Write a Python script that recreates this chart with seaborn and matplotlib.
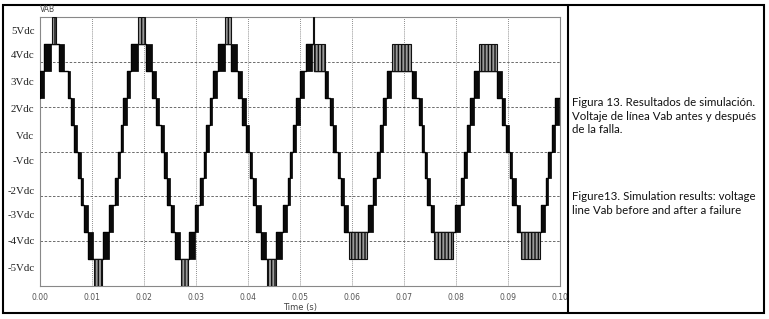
import pandas as pd
import seaborn as sns
import matplotlib.pyplot as plt
from matplotlib.patches import Rectangle
from matplotlib.lines import Line2D

# DC link voltage of one cell (V); levels are multiples of it
VDC = 120.0

# PWM switching bands (ms): signal toggles between level lo and lo+1
pwm_t0 = [0.00, 0.85, 3.65, 5.33, 5.96, 6.58, 7.25, 7.98, 8.44, 9.27,
          12.06, 13.35, 14.42, 15.00, 15.52, 16.00, 16.77, 17.54,
          20.33, 21.62, 22.35, 23.27, 23.85, 24.42, 25.10, 25.90,
          28.65, 29.85, 30.77, 31.48, 31.96, 32.60, 33.35, 34.17,
          36.77, 38.02, 38.88, 39.65, 40.29, 40.90, 41.58, 42.54,
          45.42, 46.73, 47.63, 48.12, 48.60, 49.27, 50.04, 51.10,
          54.85, 55.71, 56.38, 57.31, 57.83, 58.50,
          63.08, 64.08, 64.75, 65.42, 66.00, 66.67,
          71.48, 72.83, 73.50, 73.98, 74.46, 75.13,
          79.88, 80.90, 81.58, 82.19, 82.73, 83.50,
          87.96, 88.92, 89.56, 90.33, 90.85, 91.77,
          96.42, 97.25, 97.77, 98.40, 99.08]
pwm_t1 = [0.71, 2.12, 4.69, 5.85, 6.48, 7.15, 7.88, 8.35, 9.17, 10.13,
          13.21, 13.98, 14.94, 15.42, 15.90, 16.67, 17.25, 18.79,
          21.48, 22.25, 22.88, 23.79, 24.37, 25.00, 25.85, 26.92,
          29.75, 30.46, 31.38, 31.87, 32.50, 33.02, 33.98, 35.52,
          37.92, 38.79, 39.56, 40.19, 40.81, 41.48, 42.44, 43.50,
          46.58, 47.54, 48.02, 48.54, 49.17, 49.94, 50.77, 52.25,
          55.42, 56.29, 56.87, 57.77, 58.40, 59.23,
          63.98, 64.65, 65.33, 65.90, 66.58, 67.58,
          72.35, 73.46, 73.88, 74.42, 75.04, 75.81,
          80.81, 81.48, 82.12, 82.63, 83.40, 84.37,
          88.85, 89.46, 90.13, 90.77, 91.62, 92.25,
          97.15, 97.69, 98.31, 98.98, 99.75]
pwm_lo = [2, 3, 3, 2, 1, 0, -1, -2, -3, -4,
          -4, -3, -2, -1, 0, 1, 2, 3,
          3, 2, 1, 0, -1, -2, -3, -4,
          -4, -3, -2, -1, 0, 1, 2, 3,
          3, 2, 1, 0, -1, -2, -3, -4,
          -4, -3, -2, -1, 0, 1, 2, 3,
          2, 1, 0, -1, -2, -3,
          -3, -2, -1, 0, 1, 2,
          2, 1, 0, -1, -2, -3,
          -3, -2, -1, 0, 1, 2,
          2, 1, 0, -1, -2, -3,
          -3, -2, -1, 0, 1]

# chattering boxes at the peaks (ms), between level lo and lo+1
chat_t0 = [2.25, 10.33, 18.92, 27.12, 35.62, 43.60, 52.50, 52.73,
           59.42, 67.77, 75.85, 84.46, 92.58]
chat_t1 = [3.15, 11.87, 20.19, 28.40, 36.67, 45.33, 52.69, 54.75,
           62.88, 71.42, 79.42, 87.88, 96.10]
chat_lo = [4, -5, 4, -5, 4, -5, 4, 3, -4, 3, -4, 3, -4]

ytick_pos = [542, 431, 312, 194, 71, -40, -176, -280, -399, -517]
ytick_labels = ["5Vdc", "4Vdc", "3Vdc", "2Vdc", "Vdc",
                "-Vdc", "-2Vdc", "-3Vdc", "-4Vdc", "-5Vdc"]
ygrid = [-400, -200, 0, 200, 400]
xticks = [0.00, 0.01, 0.02, 0.03, 0.04, 0.05, 0.06, 0.07, 0.08, 0.09, 0.10]

caption_es = ["Figura 13. Resultados de simulación.",
              "Voltaje de línea Vab antes y después",
              "de la falla."]
caption_en = ["Figure13. Simulation results: voltage",
              "line Vab before and after a failure"]

sns.set_theme(style="white")
plt.rcParams.update({
    "font.family": ["DejaVu Sans"],
    "hatch.linewidth": 1.0,
})

W, H = 769, 319
fig = plt.figure(figsize=(W / 100, H / 100), dpi=100)
fig.patch.set_facecolor("white")
ax = fig.add_axes([40 / W, 1 - 286 / H, 520 / W, 269 / H])

# merge both event kinds in time order
ev = pd.concat([
    pd.DataFrame({"t0": pwm_t0, "t1": pwm_t1, "lo": pwm_lo, "kind": "pwm"}),
    pd.DataFrame({"t0": chat_t0, "t1": chat_t1, "lo": chat_lo, "kind": "chat"}),
]).sort_values("t0").reset_index(drop=True)

# the plateau level between two boxes is the level they share
sets = [{lo, lo + 1} for lo in ev["lo"]]
shared = [(sets[i] & sets[i + 1]).pop() for i in range(len(sets) - 1)]
s_in = [(sets[0] - {shared[0]}).pop()] + shared
s_out = shared + [(sets[-1] - {shared[-1]}).pop()]

xs, ys = [], []
for t0, a, b in zip(ev["t0"], s_in, s_out):
    xs += [t0, t0]
    ys += [a, b]
xs.append(100.0)
ys.append(s_out[-1])
stair = pd.DataFrame({"t": [x / 1000 for x in xs], "v": [y * VDC for y in ys]})

sns.lineplot(data=stair, x="t", y="v", sort=False, estimator=None,
             color="black", linewidth=1.0, ax=ax, zorder=3)

pwm = ev[ev["kind"] == "pwm"]
ax.bar(pwm["t0"] / 1000, VDC, width=(pwm["t1"] - pwm["t0"]) / 1000,
       bottom=pwm["lo"] * VDC, align="edge", color="#0a0a0a",
       edgecolor="black", linewidth=0.5, zorder=4)

chat = ev[ev["kind"] == "chat"]
ax.bar(chat["t0"] / 1000, VDC, width=(chat["t1"] - chat["t0"]) / 1000,
       bottom=chat["lo"] * VDC, align="edge", facecolor="#9a9a9a",
       edgecolor="#111111", hatch="|||||", linewidth=0.8, zorder=4)

ax.set_xlim(0, 0.10)
ax.set_ylim(-600, 600)
ax.set_xticks(xticks)
ax.set_xticklabels([f"{x:.2f}" for x in xticks], fontsize=5.5, color="#555")
ax.set_yticks(ytick_pos)
ax.set_yticklabels(ytick_labels, fontsize=7.8, family=["Liberation Serif", "DejaVu Serif"],
                   color="#222")
ax.set_yticks(ygrid, minor=True)
ax.tick_params(axis="both", which="both", length=0)
ax.tick_params(axis="x", pad=5)
ax.tick_params(axis="y", pad=4)
ax.grid(False)
ax.grid(which="minor", axis="y", linestyle=(0, (3, 2)), color="#555", linewidth=0.6)
ax.grid(which="major", axis="x", linestyle=(0, (1, 1.5)), color="#666", linewidth=0.6)
ax.set_axisbelow(True)
ax.set_xlabel("Time (s)", fontsize=6, color="#444", labelpad=1)
ax.set_ylabel("")
for sp in ax.spines.values():
    sp.set_color("#888")
    sp.set_linewidth(0.8)

fig.text(40 / W, 1 - 10 / H, "VAB", fontsize=5.5, color="#444", ha="left", va="center")

# outer frame and divider
fig.add_artist(Rectangle((3 / W, 1 - 313 / H), 761 / W, 308.5 / H,
                         transform=fig.transFigure, fill=False,
                         edgecolor="black", linewidth=1.5))
fig.add_artist(Line2D([568 / W, 568 / W], [1 - 313 / H, 1 - 4.5 / H],
                      transform=fig.transFigure, color="black", linewidth=1.5))

for i, line in enumerate(caption_es):
    fig.text(572 / W, 1 - (102.7 + 13.6 * i) / H, line, fontsize=8.3,
             family=["Lato", "DejaVu Sans"], color="#111", va="center")
for i, line in enumerate(caption_en):
    fig.text(572 / W, 1 - (196.7 + 13.6 * i) / H, line, fontsize=8.3,
             family=["Lato", "DejaVu Sans"], color="#111", va="center")

fig.savefig("out.png", dpi=100, facecolor="white")
